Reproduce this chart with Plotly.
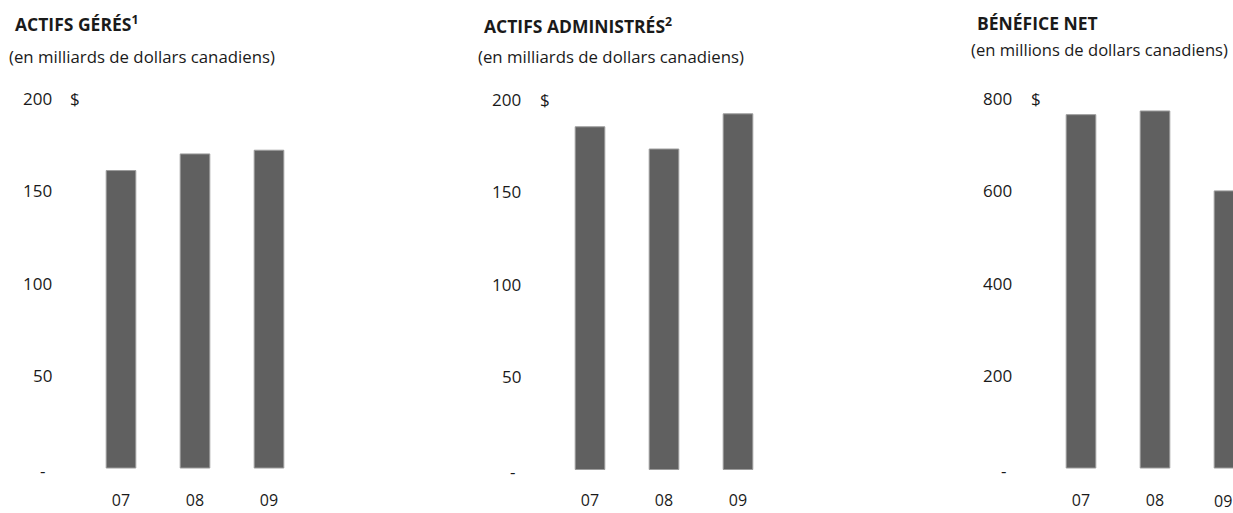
import plotly.graph_objects as go

# ---------------- data ----------------
years = ["07", "08", "09"]
actifs_geres = [161, 170, 172]          # milliards $
actifs_administres = [185, 173, 192]    # milliards $
benefice_net = [765, 773, 600]          # millions $

ticks_milliards = [0, 50, 100, 150, 200]
ticks_millions = [0, 200, 400, 600, 800]

titles = ["ACTIFS GÉRÉS<sup>1</sup>", "ACTIFS ADMINISTRÉS<sup>2</sup>", "BÉNÉFICE NET"]
subtitles = ["(en milliards de dollars canadiens)",
             "(en milliards de dollars canadiens)",
             "(en millions de dollars canadiens)"]
series = [actifs_geres, actifs_administres, benefice_net]
tick_sets = [ticks_milliards, ticks_milliards, ticks_millions]

# ---------------- layout (pixels) ----------------
W, H = 1233, 513
FONT = "Open Sans"
TXT = "#1a1a1a"
BAR = "#606060"
STEP = 74.0

panels = [
    dict(c0=121, zero=468.0, top=98.5, dom=(60, 330), num_r=54, dollar_l=68, dash=42.5,
         title=(13, 23), sub=(7, 56), sub_size=16.8),
    dict(c0=590, zero=469.5, top=99.0, dom=(530, 800), num_r=523, dollar_l=538, dash=512,
         title=(482, 25), sub=(476, 56.5), sub_size=16.8),
    dict(c0=1081, zero=468.0, top=98.5, dom=(1020, 1233), num_r=1014, dollar_l=1029, dash=1003.5,
         title=(975, 23), sub=(969, 49), sub_size=16.6),
]
Y_TOP_PX, Y_BOT_PX = 80, 488.5

fig = go.Figure()
annotations = []

for i, (p, vals, ticks) in enumerate(zip(panels, series, tick_sets)):
    n = "" if i == 0 else str(i + 1)
    xa, ya = "x" + n, "y" + n
    fig.add_trace(go.Bar(
        x=years, y=vals, xaxis=xa, yaxis=ya, width=0.4,
        marker=dict(color=BAR, line=dict(color="#9c9c9c", width=1)),
        showlegend=False, hoverinfo="x+y",
    ))
    s = (p["zero"] - p["top"]) / ticks[-1]
    yr = [(p["zero"] - Y_BOT_PX) / s, (p["zero"] - Y_TOP_PX) / s]
    xr = [(p["dom"][0] - p["c0"]) / STEP, (p["dom"][1] - p["c0"]) / STEP]
    # last panel is cut by the right page edge: its last label is placed inside the page
    shown = years if i < 2 else years[:-1]
    fig.update_layout(**{
        ("xaxis" + n): dict(domain=[p["dom"][0] / W, p["dom"][1] / W], range=xr,
                            type="category", anchor=ya, showgrid=False, zeroline=False,
                            showline=False, ticks="",
                            tickvals=shown, ticktext=shown,
                            tickfont=dict(family=FONT, size=16, color=TXT),
                            fixedrange=True),
        ("yaxis" + n): dict(domain=[(H - Y_BOT_PX) / H, (H - Y_TOP_PX) / H], range=yr,
                            anchor=xa, showgrid=False, zeroline=False, showline=False,
                            showticklabels=False, ticks="", fixedrange=True),
    })
    if i == 2:
        annotations.append(dict(x=1, xref="paper", y=(H - 500.5) / H, yref="paper", text=years[-1],
                                xanchor="right", yanchor="middle", showarrow=False, borderpad=0,
                                font=dict(family=FONT, size=16, color=TXT)))
    # y tick labels
    for t in ticks:
        if t == 0:
            annotations.append(dict(x=p["dash"] / W, xref="paper", y=t, yref=ya, text="-",
                                    xanchor="center", yanchor="middle", showarrow=False, yshift=-2,
                                    font=dict(family=FONT, size=17, color=TXT)))
        else:
            annotations.append(dict(x=p["num_r"] / W, xref="paper", y=t, yref=ya, text=str(t),
                                    xanchor="right", yanchor="middle", showarrow=False,
                                    font=dict(family=FONT, size=17, color=TXT)))
    annotations.append(dict(x=p["dollar_l"] / W, xref="paper", y=ticks[-1], yref=ya, text="$",
                            xanchor="left", yanchor="middle", showarrow=False,
                            font=dict(family=FONT, size=17, color=TXT)))
    # titles
    annotations.append(dict(x=p["title"][0] / W, xref="paper", y=(H - p["title"][1]) / H, yref="paper",
                            text="<b>" + titles[i] + "</b>", xanchor="left", yanchor="middle",
                            showarrow=False, font=dict(family=FONT, size=17.5, color=TXT)))
    annotations.append(dict(x=p["sub"][0] / W, xref="paper", y=(H - p["sub"][1]) / H, yref="paper",
                            text=subtitles[i], xanchor="left", yanchor="middle",
                            showarrow=False, font=dict(family=FONT, size=p["sub_size"], color=TXT)))

fig.update_layout(
    width=W, height=H, margin=dict(l=0, r=0, t=0, b=0),
    paper_bgcolor="white", plot_bgcolor="white",
    annotations=annotations, bargap=0.6,
    font=dict(family=FONT, color=TXT),
)

post = ("document.documentElement.style.overflow='hidden';"
        "document.body.style.margin='0';document.body.style.overflow='hidden';"
        "var d=document.getElementById('{plot_id}');d.style.overflow='hidden';")
fig.write_html("out.html", config={"displayModeBar": False}, post_script=post)
